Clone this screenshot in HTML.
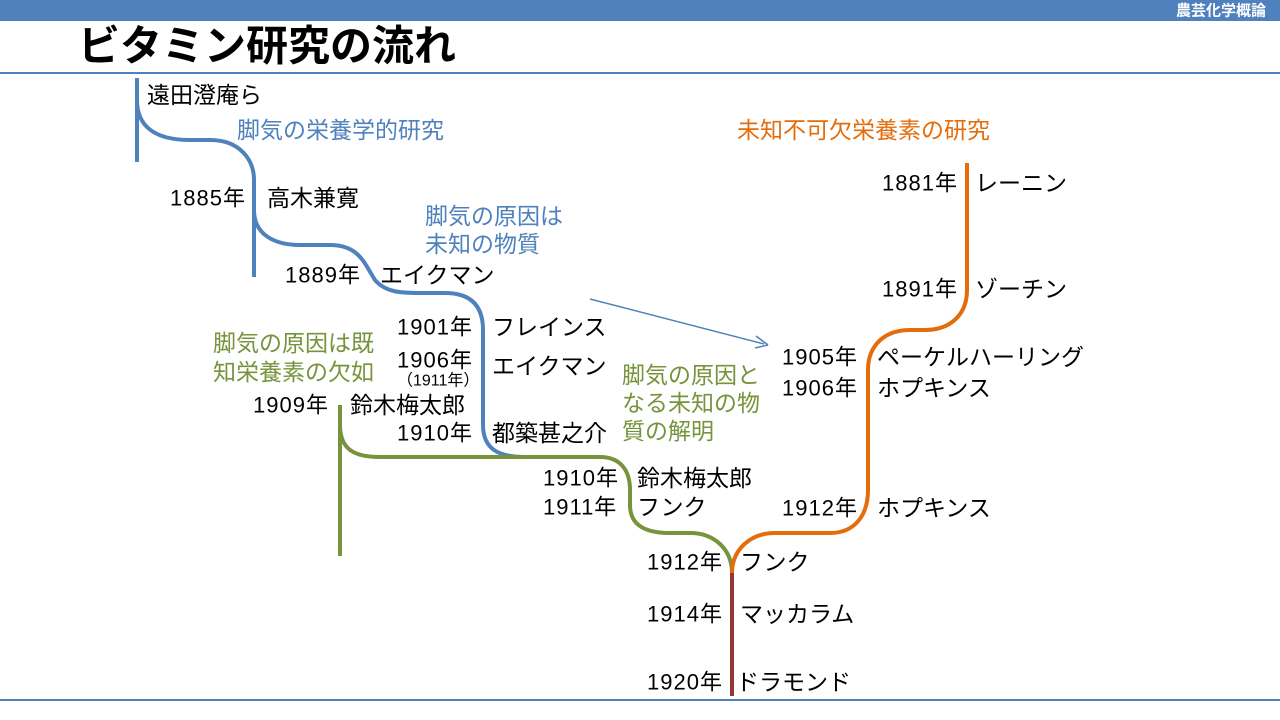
<!DOCTYPE html>
<html><head><meta charset="utf-8"><style>
html,body{margin:0;padding:0;background:#fff;}
svg{display:block;}
text{font-family:"Liberation Sans","Noto Sans CJK JP",sans-serif;}
.y{font-size:22px;letter-spacing:1px;}
</style></head><body>
<svg width="1280" height="720" viewBox="0 0 1280 720" xmlns="http://www.w3.org/2000/svg">
<rect x="0" y="0" width="1280" height="21" fill="#4f81bd"/>
<text x="1266" y="11" text-anchor="end" dominant-baseline="central" font-size="15" font-weight="bold" fill="#fff">農芸化学概論</text>
<text x="78" y="46" dominant-baseline="central" font-size="42" font-weight="bold" fill="#000">ビタミン研究の流れ</text>
<rect x="0" y="72" width="1280" height="2" fill="#4f81bd"/>
<rect x="0" y="699" width="1280" height="2" fill="#4f81bd"/>

<g fill="none" stroke-width="4">
<path d="M137 78 V162" stroke="#4f81bd"/>
<path d="M137 100 C137 130 160 140 190 140 H210 C240 140 254 160 254 180 V277" stroke="#4f81bd"/>
<path d="M254 210 C254 235 275 245 300 245 H330 C360 245 365 265 375 280 C385 292 400 293 420 293 H445 C470 293 483 305 483 330 V425 C483 450 500 457 525 457" stroke="#4f81bd"/>
<path d="M340 405 V556" stroke="#77933c"/>
<path d="M340 425 C340 450 355 457 380 457 H600 C620 457 630 470 630 490 V505 C630 525 645 533 670 533 H690 C715 533 732 550 732 573" stroke="#77933c"/>
<path d="M732 573 C732 550 750 533 775 533 H830 C855 533 868 515 868 490 V370 C868 345 885 330 910 330 H925 C950 330 967 315 967 290 V163" stroke="#e46c0a"/>
<path d="M732 573 V696" stroke="#953735"/>
</g>
<line x1="590" y1="299" x2="764" y2="344" stroke="#4f81bd" stroke-width="1.5"/>
<path d="M768 345 L756 336 M768 345 L755 348" stroke="#4f81bd" stroke-width="1.5" fill="none"/>

<g font-size="23" dominant-baseline="central" fill="#000">
<text x="147" y="95">遠田澄庵ら</text>
<text class="y" x="170" y="198">1885年</text><text x="267" y="198">高木兼寛</text>
<text class="y" x="285" y="275">1889年</text><text x="380" y="275">エイクマン</text>
<text class="y" x="397" y="327">1901年</text><text x="492" y="327">フレインス</text>
<text class="y" x="397" y="360">1906年</text><text x="492" y="366">エイクマン</text>
<text x="397" y="381" font-size="16">（1911年）</text>
<text class="y" x="253" y="405">1909年</text><text x="350" y="405">鈴木梅太郎</text>
<text class="y" x="397" y="433">1910年</text><text x="492" y="433">都築甚之介</text>
<text class="y" x="543" y="478">1910年</text><text x="637" y="478">鈴木梅太郎</text>
<text class="y" x="543" y="507">1911年</text><text x="637" y="507">フンク</text>
<text class="y" x="647" y="562">1912年</text><text x="740" y="562">フンク</text>
<text class="y" x="647" y="614">1914年</text><text x="740" y="614">マッカラム</text>
<text class="y" x="647" y="682">1920年</text><text x="736" y="682">ドラモンド</text>
<text class="y" x="882" y="183">1881年</text><text x="975" y="183">レーニン</text>
<text class="y" x="882" y="289">1891年</text><text x="975" y="289">ゾーチン</text>
<text class="y" x="782" y="357">1905年</text><text x="877" y="357">ペーケルハーリング</text>
<text class="y" x="782" y="388">1906年</text><text x="877" y="388">ホプキンス</text>
<text class="y" x="782" y="508">1912年</text><text x="877" y="508">ホプキンス</text>
</g>
<g font-size="23" dominant-baseline="central">
<text x="237" y="130" fill="#4f81bd">脚気の栄養学的研究</text>
<text x="425" y="216" fill="#4f81bd">脚気の原因は</text>
<text x="425" y="244" fill="#4f81bd">未知の物質</text>
<text x="213" y="343" fill="#77933c">脚気の原因は既</text>
<text x="213" y="372" fill="#77933c">知栄養素の欠如</text>
<text x="622" y="375" fill="#77933c">脚気の原因と</text>
<text x="622" y="403" fill="#77933c">なる未知の物</text>
<text x="622" y="431" fill="#77933c">質の解明</text>
<text x="737" y="130" fill="#e46c0a">未知不可欠栄養素の研究</text>
</g>
</svg>
</body></html>
